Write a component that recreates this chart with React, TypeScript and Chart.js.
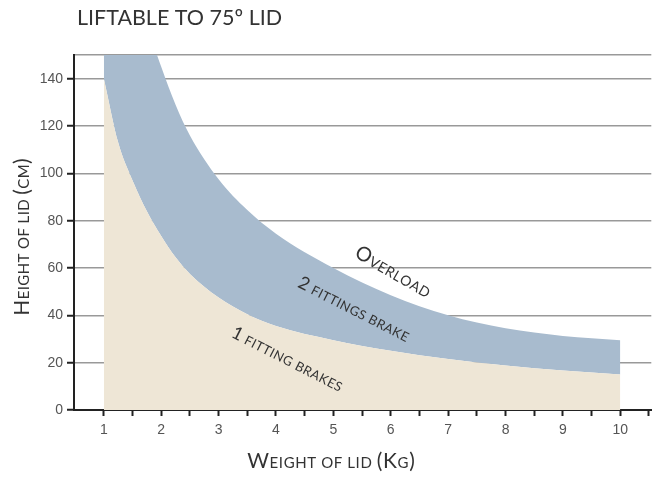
import React, { useEffect, useRef } from 'react';
import { Chart, registerables } from 'chart.js';

Chart.register(...registerables);

// Weight of lid (kg)
const weights = [1, 1.25, 1.5, 1.75, 2, 2.25, 2.5, 3, 3.5, 4, 5, 6, 7, 8, 9, 10];
// Upper limit of "1 fitting brakes" zone (height of lid, cm)
const oneFittingLimit = [140, 113, 97, 84, 73.5, 64.5, 57.5, 47.5, 40.5, 35.5, 29.5, 25, 21.5, 18.8, 16.7, 15];
// Upper limit of "2 fittings brake" zone (overload boundary)
const twoFittingsLimit = [260, 218, 186, 163, 145, 129, 116, 97.5, 84.5, 74.5, 60, 48.5, 40, 34.5, 31.3, 29.5];

const yTicks = [0, 20, 40, 60, 80, 100, 120, 140, 150];
const xTicks = [1, 1.5, 2, 2.5, 3, 3.5, 4, 4.5, 5, 5.5, 6, 6.5, 7, 7.5, 8, 8.5, 9, 9.5, 10, 10.5];

const titleText = 'LIFTABLE TO 75º LID';
const xTitle = 'Weight of lid (Kg)';
const yTitle = 'Height of lid (cm)';
const zoneLabels = [
  { text: 'Overload', x: 6.03, y: 57.9, angle: 30, big: 20, small: 14 },
  { text: '2 fittings brake', x: 5.35, y: 42.2, angle: 27, big: 18, small: 13 },
  { text: '1 fitting brakes', x: 4.19, y: 21.1, angle: 27, big: 18, small: 13 },
];

const FAMILY = 'Lato, "Open Sans", sans-serif';
const TEXT = '#333333';

function drawSmallCaps(
  ctx: CanvasRenderingContext2D,
  text: string,
  cx: number,
  cy: number,
  angleDeg: number,
  big: number,
  small: number,
  spacing: number
) {
  const parts = Array.from(text).map((ch) => {
    const lower = ch !== ch.toUpperCase() || ch === ' ';
    return { t: ch.toUpperCase(), size: lower ? small : big, w: 0 };
  });
  let total = 0;
  parts.forEach((p, i) => {
    ctx.font = `${p.size}px ${FAMILY}`;
    p.w = ctx.measureText(p.t).width;
    total += p.w + (i < parts.length - 1 ? spacing : 0);
  });
  ctx.save();
  ctx.translate(cx, cy);
  ctx.rotate((angleDeg * Math.PI) / 180);
  ctx.fillStyle = TEXT;
  ctx.textAlign = 'left';
  ctx.textBaseline = 'alphabetic';
  let x = -total / 2;
  const base = small * 0.36;
  parts.forEach((p) => {
    ctx.font = `${p.size}px ${FAMILY}`;
    ctx.fillText(p.t, x, base);
    x += p.w + spacing;
  });
  ctx.restore();
}

const textPlugin = {
  id: 'textPlugin',
  afterDraw(chart: any) {
    const ctx: CanvasRenderingContext2D = chart.ctx;
    const xs = chart.scales.x;
    const ys = chart.scales.y;
    ctx.save();
    // main title
    ctx.font = `21.5px ${FAMILY}`;
    ctx.fillStyle = TEXT;
    ctx.textAlign = 'left';
    ctx.textBaseline = 'alphabetic';
    ctx.fillText(titleText, 77, 25);
    // axis titles
    drawSmallCaps(ctx, xTitle, 331, 463, 0, 21, 15, 0.6);
    drawSmallCaps(ctx, yTitle, 24, 237, -90, 21, 15, 0.4);
    // zone labels
    zoneLabels.forEach((l) => {
      drawSmallCaps(ctx, l.text, xs.getPixelForValue(l.x), ys.getPixelForValue(l.y), l.angle, l.big, l.small, 0.5);
    });
    ctx.restore();
  },
};

export default function App() {
  const ref = useRef<HTMLCanvasElement | null>(null);
  useEffect(() => {
    if (!ref.current) return;
    const chart = new Chart(ref.current, {
      type: 'line',
      data: {
        datasets: [
          {
            label: '1 fitting brakes',
            data: weights.map((w, i) => ({ x: w, y: oneFittingLimit[i] })),
            backgroundColor: '#eee6d6',
            borderColor: 'rgba(0,0,0,0)',
            borderWidth: 0,
            pointRadius: 0,
            fill: 'origin',
            cubicInterpolationMode: 'monotone',
          },
          {
            label: '2 fittings brake',
            data: weights.map((w, i) => ({ x: w, y: twoFittingsLimit[i] })),
            backgroundColor: '#a8bbce',
            borderColor: 'rgba(0,0,0,0)',
            borderWidth: 0,
            pointRadius: 0,
            fill: '-1',
            cubicInterpolationMode: 'monotone',
          },
        ],
      },
      options: {
        responsive: false,
        animation: false,
        events: [],
        layout: { padding: { left: 8, right: 1, top: 55, bottom: 0 } },
        plugins: {
          legend: { display: false },
          tooltip: { enabled: false },
          title: { display: false },
        },
        scales: {
          x: {
            type: 'linear',
            min: 0.48,
            max: 10.54,
            z: 1,
            afterBuildTicks: (s: any) => {
              s.ticks = xTicks.map((v) => ({ value: v }));
            },
            afterFit: (s: any) => {
              s.height = 67;
            },
            grid: {
              drawOnChartArea: false,
              drawTicks: true,
              tickLength: 6,
              tickColor: '#222',
              tickWidth: 2,
            },
            border: { display: true, color: '#222', width: 2 },
            ticks: {
              autoSkip: false,
              maxRotation: 0,
              padding: 6,
              color: '#555',
              font: { family: '"Liberation Sans", Arial, sans-serif', size: 14 },
              callback: (v: any) => (Number.isInteger(Number(v)) ? String(v) : ''),
            },
          },
          y: {
            type: 'linear',
            min: 0,
            max: 150,
            z: 1,
            afterBuildTicks: (s: any) => {
              s.ticks = yTicks.map((v) => ({ value: v }));
            },
            afterFit: (s: any) => {
              s.width = 66;
            },
            grid: {
              color: 'rgba(70,70,70,0.55)',
              lineWidth: 1.5,
              drawTicks: true,
              tickLength: 7,
              tickWidth: 2,
              tickColor: (c: any) => (c.tick && c.tick.value === 150 ? 'rgba(0,0,0,0)' : '#222'),
            },
            border: { display: true, color: '#222', width: 2 },
            ticks: {
              padding: 4,
              color: '#555',
              font: { family: '"Liberation Sans", Arial, sans-serif', size: 14 },
              callback: (v: any) => (Number(v) === 150 ? '' : String(v)),
            },
          },
        },
      },
      plugins: [textPlugin],
    } as any);
    return () => chart.destroy();
  }, []);
  return (
    <div style={{ position: 'fixed', left: 0, top: 0, width: 655, height: 477, background: '#fff' }}>
      <canvas ref={ref} width={655} height={477} style={{ width: 655, height: 477, display: 'block' }} />
    </div>
  );
}
